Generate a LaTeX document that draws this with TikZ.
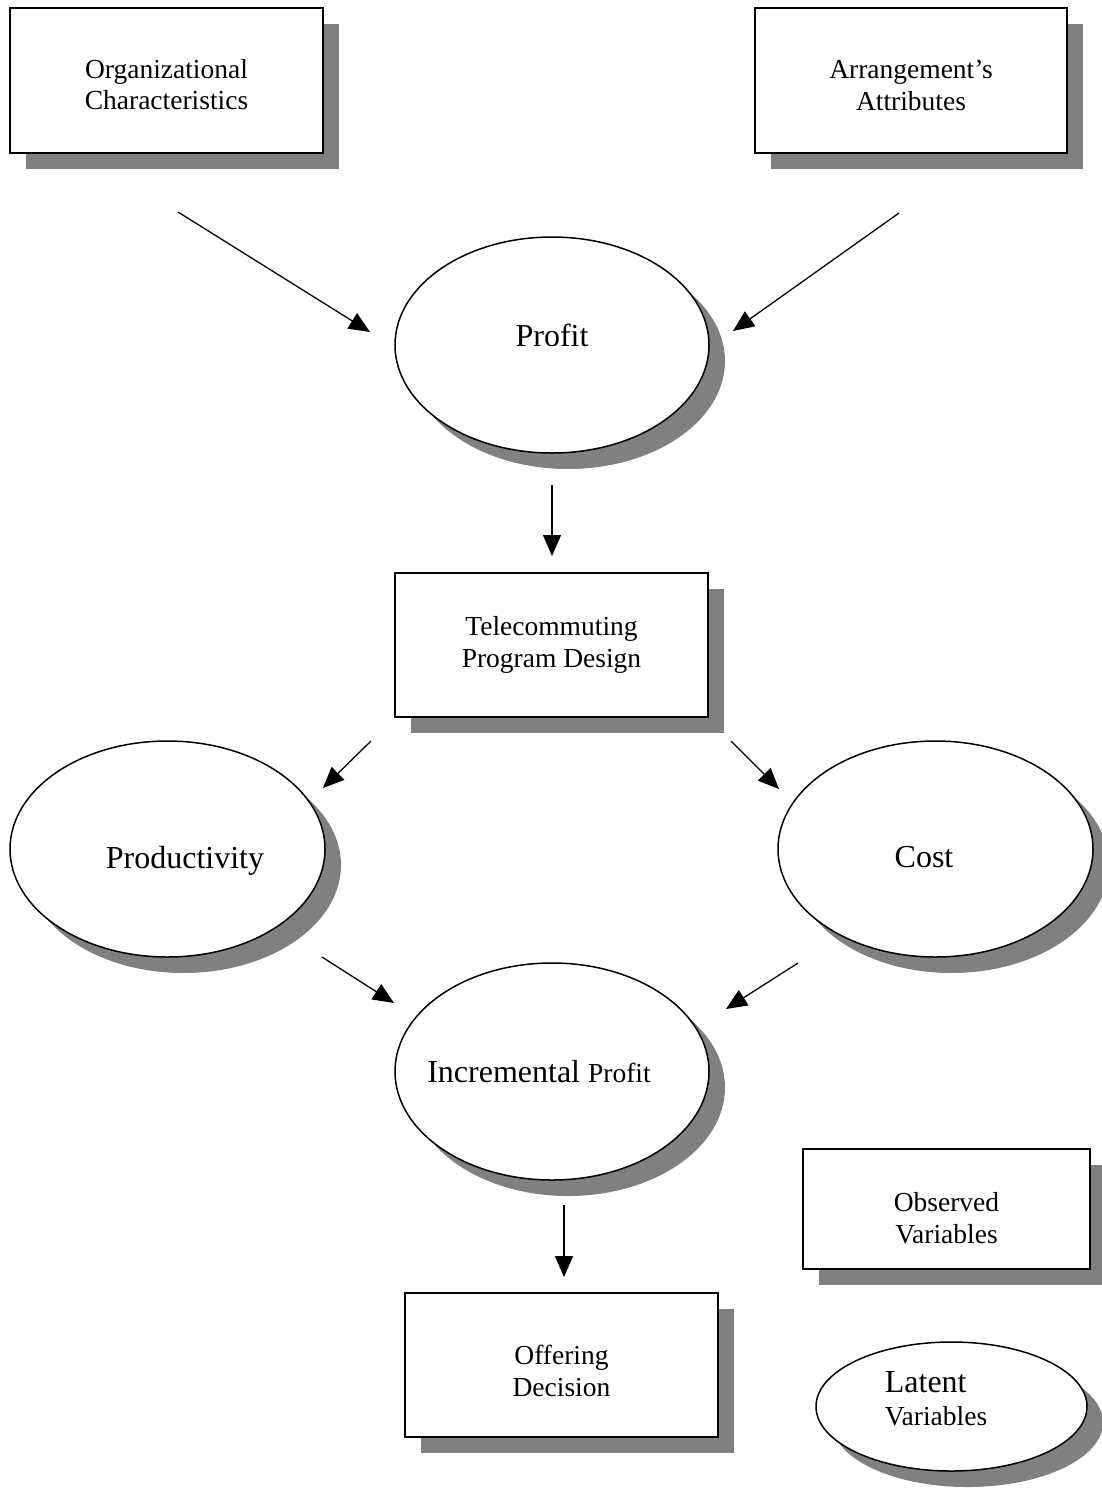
\documentclass[tikz,border=0pt]{standalone}
\usepackage{fontspec}
\setmainfont{Liberation Serif}
\usetikzlibrary{shapes.geometric,shadows,arrows.meta}
\definecolor{shadowgray}{HTML}{808080}
\tikzset{
  sh/.style={drop shadow={shadow xshift=16pt, shadow yshift=-16pt, fill=shadowgray, opacity=1}},
  obsbox/.style={draw, line width=1.5pt, fill=white, rectangle, sh, inner sep=0pt},
  latent/.style={draw, line width=1.5pt, fill=white, ellipse, sh, inner sep=0pt},
  btext/.style={align=center, font=\fontsize{27.5}{31.5}\selectfont, inner sep=0pt},
  ltext/.style={align=center, font=\fontsize{32}{37}\selectfont, inner sep=0pt},
  conn/.style={line width=1.3pt, -{Triangle[length=21pt,width=18pt]}},
}
\begin{document}
\begin{tikzpicture}[x=1pt,y=-1pt]
\useasboundingbox (0,0) rectangle (1102,1500);
% observed variable boxes
\node[obsbox, minimum width=313pt, minimum height=145pt,
  label={[btext, yshift=-4pt]center:Organizational\\Characteristics}] (org) at (166.5,80.5) {};
\node[obsbox, minimum width=312pt, minimum height=145pt,
  label={[btext, yshift=-5pt]center:Arrangement’s\\Attributes}] (arr) at (911,80.5) {};
\node[obsbox, minimum width=313pt, minimum height=144pt,
  label={[btext, yshift=0pt]center:Telecommuting\\Program Design}] (tele) at (551.5,645) {};
\node[obsbox, minimum width=313pt, minimum height=144pt,
  label={[btext, yshift=-6pt]center:Offering\\Decision}] (off) at (561.5,1365) {};
\node[obsbox, minimum width=287pt, minimum height=120pt,
  label={[btext, yshift=-9pt]center:Observed\\Variables}] (obs) at (946.5,1209) {};
% latent variables
\node[latent, minimum width=314pt, minimum height=216pt,
  label={[ltext, yshift=10pt]center:Profit}] (profit) at (552,345) {};
\node[latent, minimum width=315pt, minimum height=216pt,
  label={[ltext, xshift=17.5pt, yshift=-12pt]center:Productivity}] (prod) at (167.5,849) {};
\node[latent, minimum width=315pt, minimum height=216pt,
  label={[ltext, xshift=-11.5pt, yshift=-8pt]center:Cost}] (cost) at (935.5,849) {};
\node[latent, minimum width=314pt, minimum height=217pt,
  label={[ltext, xshift=-13pt, yshift=0pt]center:Incremental {\fontsize{27.5}{31.5}\selectfont Profit}}] (inc) at (552,1071.5) {};
\node[latent, minimum width=271pt, minimum height=129pt,
  label={[ltext, align=left, xshift=-15.5pt, yshift=8pt]center:Latent\\[-4pt]{\fontsize{27.5}{31.5}\selectfont Variables}}] (lat) at (951.5,1406.5) {};
% connector end points
\coordinate (a1s) at (178,212); \coordinate (a1e) at (370,332);
\coordinate (a2s) at (899,213); \coordinate (a2e) at (733,331);
\coordinate (a3s) at (552,485); \coordinate (a3e) at (552,556);
\coordinate (a4s) at (371,741); \coordinate (a4e) at (323,788);
\coordinate (a5s) at (731,741); \coordinate (a5e) at (779,789);
\coordinate (a6s) at (322,957); \coordinate (a6e) at (394,1003);
\coordinate (a7s) at (798,963); \coordinate (a7e) at (726,1009);
\coordinate (a8s) at (564,1205); \coordinate (a8e) at (564,1277);
\draw[conn] (a1s) -- (a1e);
\draw[conn] (a2s) -- (a2e);
\draw[conn] (a3s) -- (a3e);
\draw[conn] (a4s) -- (a4e);
\draw[conn] (a5s) -- (a5e);
\draw[conn] (a6s) -- (a6e);
\draw[conn] (a7s) -- (a7e);
\draw[conn] (a8s) -- (a8e);
\end{tikzpicture}
\end{document}
